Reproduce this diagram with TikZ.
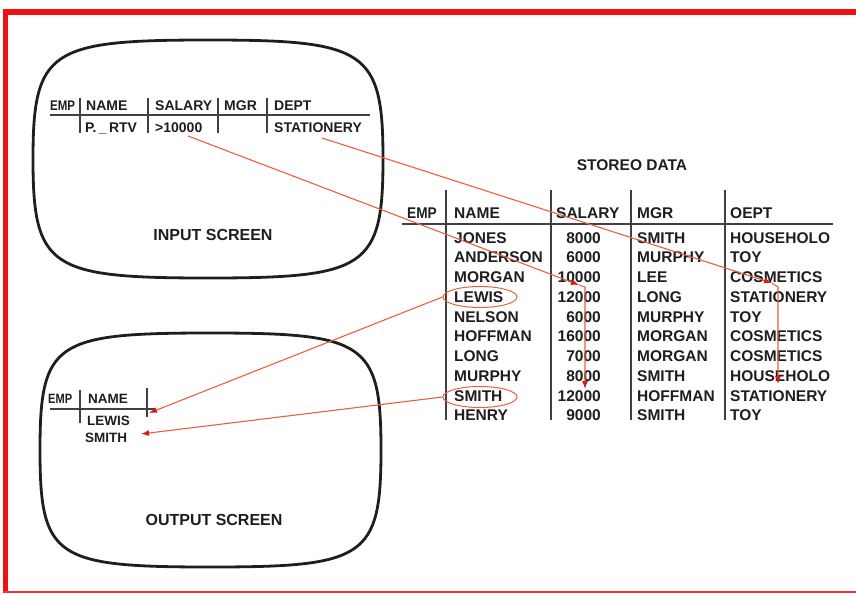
\documentclass[tikz,border=0pt]{standalone}
\usepackage{fontspec}
\setmainfont{Liberation Sans}
\usetikzlibrary{arrows.meta,shapes.geometric}
\definecolor{ink}{HTML}{1E1E1E}
\definecolor{frame}{HTML}{F01010}
\definecolor{conn}{HTML}{E8603C}
\definecolor{tip}{HTML}{E41414}
\begin{document}
\begin{tikzpicture}[x=1pt,y=-1pt,
  tv/.style={draw=ink,line width=2.8pt},
  rule/.style={draw=ink!85,line width=1.3pt},
  t/.style={anchor=base west,inner sep=0pt,text=ink,font=\bfseries\fontsize{15.5}{16}\selectfont},
  tr/.style={t,anchor=base east},
  ti/.style={t,font=\bfseries\fontsize{14}{15}\selectfont},
  to/.style={t,font=\bfseries\fontsize{13.5}{14}\selectfont},
  ttl/.style={anchor=base,inner sep=0pt,text=ink,font=\bfseries\fontsize{16}{17}\selectfont},
  cline/.style={draw=conn,line width=1.1pt},
  arr/.style={cline,-{Latex[length=8pt,width=6pt,color=tip]}},
  ring/.style={draw=conn,line width=1pt,ellipse,minimum width=74pt,minimum height=21pt,inner sep=0pt}]
\useasboundingbox (0,0) rectangle (856,594);
% frame
\draw[frame,line width=6pt] (3,12) -- (856,12);
\draw[frame,line width=5pt] (5.5,9) -- (5.5,593);
\draw[frame!85,line width=2pt] (3,592) -- (856,592);

% input screen
\draw[tv] (208,40) .. controls (366,40) and (383,50) .. (383,159)
  .. controls (383,268) and (366,278) .. (208,278)
  .. controls (50,278) and (33,268) .. (33,159)
  .. controls (33,50) and (50,40) .. (208,40) -- cycle;
\draw[rule] (50,115) -- (370,115);
\foreach \x in {80,148,218,267} \draw[rule] (\x,98) -- (\x,133);
\node[ti] (iEmp) at (50,110) {\scalebox{0.82}[1]{EMP}};
\node[ti] (iName) at (86,110) {NAME};
\node[ti] (iSal) at (155,110) {SALARY};
\node[ti] (iMgr) at (224,110) {MGR};
\node[ti] (iDept) at (274,110) {DEPT};
\node[ti] (iP) at (85,132) {P.\,\_\,RTV};
\node[ti] (iGt) at (155,132) {>10000};
\node[ti] (iSt) at (274,132) {STATIONERY};
\node[ttl] (inTitle) at (213,240) {INPUT SCREEN};

% output screen
\draw[tv] (210,333) .. controls (365,333) and (381,342) .. (381,450)
  .. controls (381,558) and (365,567) .. (210,567)
  .. controls (55,567) and (40,558) .. (40,450)
  .. controls (40,342) and (55,333) .. (210,333) -- cycle;
\draw[rule] (50,409) -- (155,409);
\draw[rule] (80,390) -- (80,423);
\draw[rule] (147,388) -- (147,417);
\node[to] (oEmp) at (48,403) {\scalebox{0.82}[1]{EMP}};
\node[to] (oName) at (88,403) {NAME};
\node[to] (oLewis) at (87,425) {LEWIS};
\node[to] (oSmith) at (85,442) {SMITH};
\node[ttl] (outTitle) at (214,525) {OUTPUT SCREEN};

% stored data
\node[ttl,font=\bfseries\fontsize{15.5}{16}\selectfont] (sdTitle) at (632,170) {STOREO DATA};
\draw[rule] (402,224) -- (833,224);
\foreach \x in {446,551,631,725} \draw[rule] (\x,190) -- (\x,420);
\node[t] (hEmp) at (407,218) {\scalebox{0.88}[1]{EMP}};
\node[t] (hName) at (454,218) {NAME};
\node[t] (hSal) at (556,218) {SALARY};
\node[t] (hMgr) at (637,218) {MGR};
\node[t] (hDept) at (730,218) {OEPT};
\foreach \n/\s/\m/\d [count=\i] in {
  JONES/8000/SMITH/HOUSEHOLO,
  ANDERSON/6000/MURPHY/TOY,
  MORGAN/10000/LEE/COSMETICS,
  LEWIS/12000/LONG/STATIONERY,
  NELSON/6000/MURPHY/TOY,
  HOFFMAN/16000/MORGAN/COSMETICS,
  LONG/7000/MORGAN/COSMETICS,
  MURPHY/8000/SMITH/HOUSEHOLO,
  SMITH/12000/HOFFMAN/STATIONERY,
  HENRY/9000/SMITH/TOY}{
  \pgfmathsetmacro{\yy}{243+19.75*(\i-1)}
  \node[t] (n\i) at (454,\yy) {\n};
  \node[tr] (s\i) at (601,\yy) {\s};
  \node[t] (m\i) at (637,\yy) {\m};
  \node[t] (d\i) at (730,\yy) {\d};
}
\node[ring] (ringLewis) at (480,297) {};
\node[ring] (ringSmith) at (480,397) {};

% connectors
\coordinate (a1) at (188,136);
\coordinate (k1) at (579,285);
\coordinate (k1b) at (585,287);
\coordinate (e1) at (585,389);
\draw[arr] (a1) -- (k1);
\draw[arr] (k1) -- (k1b) -- (e1);
\coordinate (a2) at (322,138);
\coordinate (k2) at (772,283);
\coordinate (k2b) at (778,287);
\coordinate (e2) at (778,384);
\draw[arr] (a2) -- (k2);
\draw[arr] (k2) -- (k2b) -- (e2);
\coordinate (o1) at (149,413);
\coordinate (o2) at (141,434);
\draw[arr] (ringLewis.west) -- (o1);
\draw[arr] (ringSmith.west) -- (o2);
\end{tikzpicture}
\end{document}
